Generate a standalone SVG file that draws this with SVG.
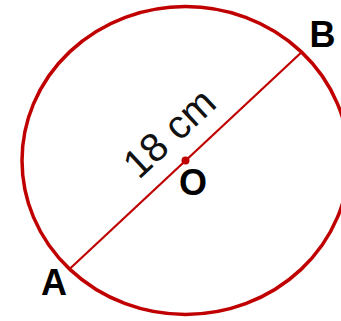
<svg xmlns="http://www.w3.org/2000/svg" width="341" height="321" viewBox="0 0 341 321">
<style>
.lbl{font-family:"Liberation Sans",Arial,sans-serif;font-weight:bold;font-size:36px;fill:#000;text-anchor:middle}
.dim{font-family:"Liberation Sans",Arial,sans-serif;font-size:40px;fill:#111;text-anchor:middle}
.red{stroke:#c00000;fill:none}
</style>
<rect width="341" height="321" fill="#fff"/>
<g id="circle">
<ellipse class="red" cx="185.5" cy="160.5" rx="163.5" ry="154" stroke-width="3.5"/>
</g>
<g id="connectors">
<line class="red" x1="69.3" y1="269.3" x2="301" y2="52.7" stroke-width="2.2"/>
</g>
<g id="center">
<circle cx="185.5" cy="160.5" r="4" fill="#c00000"/>
<text class="lbl" x="193" y="195">O</text>
</g>
<g id="pointA"><text class="lbl" x="54" y="295">A</text></g>
<g id="pointB"><text class="lbl" x="322.5" y="47">B</text></g>
<g id="dimension"><text class="dim" transform="translate(178.5,143) rotate(-43)">18 cm</text></g>
</svg>
